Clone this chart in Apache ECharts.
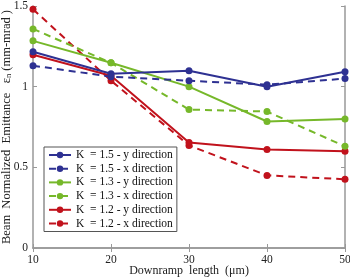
<!DOCTYPE html>
<html><head><meta charset="utf-8">
<script src="https://cdn.jsdelivr.net/npm/echarts@6/dist/echarts.min.js"></script>
<style>html,body{margin:0;padding:0;background:#fff}#c{width:350px;height:280px}</style>
</head><body><div id="c"></div>
<script>
var xValues = [10, 20, 30, 40, 50];
var k15y = [1.216, 1.08, 1.099, 1.0, 1.093];
var k15x = [1.13, 1.062, 1.037, 1.012, 1.05];
var k13y = [1.284, 1.148, 1.0, 0.784, 0.80];
var k13x = [1.358, 1.148, 0.858, 0.846, 0.63];
var k12y = [1.198, 1.068, 0.654, 0.611, 0.60];
var k12x = [1.48, 1.037, 0.636, 0.45, 0.426];
var seriesNames = ['K  = 1.5 - y direction','K  = 1.5 - x direction','K  = 1.3 - y direction','K  = 1.3 - x direction','K  = 1.2 - y direction','K  = 1.2 - x direction'];
var seriesData = [k15y, k15x, k13y, k13x, k12y, k12x];
var colors = ['#2e3192','#2e3192','#76b82a','#76b82a','#c1121c','#c1121c'];
var dashed = [false,true,false,true,false,true];
var font = 'Liberation Serif';

var series = seriesData.map(function(d,i){
  return {
    name: seriesNames[i], type:'line', data: d.map(function(v,j){return [xValues[j], v];}),
    symbol:'circle', symbolSize:7, color: colors[i],
    lineStyle:{width:2, type: dashed[i] ? [7,5] : 'solid', color: colors[i]},
    itemStyle:{color: colors[i]}, z: 10 - i
  };
});
var axisCol = '#999';
var chart = echarts.init(document.getElementById('c'));
chart.setOption({
  animation:false,
  grid:{left:33, right:5, top:6, bottom:32, show:false, containLabel:false, outerBoundsMode:'none'},
  legend:{
    orient:'vertical', left:44, top:147, itemWidth:22, itemHeight:8, itemGap:1.7,
    padding:[2,4,2,4], borderColor:'#555', borderWidth:1, backgroundColor:'#fff',
    textStyle:{fontFamily:font, fontSize:11.5, lineHeight:12, color:'#111'},
    data: seriesNames
  },
  xAxis:[{
    type:'value', min:10, max:50, interval:10,
    axisLine:{show:true, lineStyle:{color:axisCol, width:1.5}},
    axisTick:{show:true, inside:true, length:4, lineStyle:{color:axisCol}},
    axisLabel:{fontFamily:font, fontSize:11.5, color:'#222', margin:6},
    splitLine:{show:false},
    name:'Downramp  length  (\u03bcm)', nameLocation:'middle', nameGap:17, nameMoveOverlap:false,
    nameTextStyle:{fontFamily:font, fontSize:12, color:'#222'}
  },{
    type:'value', min:10, max:50, interval:10, position:'top',
    axisLine:{show:true, lineStyle:{color:axisCol, width:1.5}},
    axisTick:{show:true, inside:true, length:4, lineStyle:{color:axisCol}},
    axisLabel:{show:false}, splitLine:{show:false}
  }],
  yAxis:[{
    type:'value', min:0, max:1.5, interval:0.5,
    axisLine:{show:true, lineStyle:{color:axisCol, width:1.5}},
    axisTick:{show:true, inside:true, length:4, lineStyle:{color:axisCol}},
    axisLabel:{fontFamily:font, fontSize:11.5, color:'#222', margin:5},
    splitLine:{show:false},
    name:'Beam  Normalized  Emittance   \u03b5{sub|n} (mm-mrad )', nameLocation:'middle', nameGap:20, nameMoveOverlap:false,
    nameTextStyle:{fontFamily:font, fontSize:12.5, color:'#222',
      rich:{sub:{fontFamily:font, fontSize:8.5, color:'#222', verticalAlign:'bottom', padding:[4,0,0,0]}}}
  },{
    type:'value', min:0, max:1.5, interval:0.5, position:'right',
    axisLine:{show:true, lineStyle:{color:axisCol, width:1.5}},
    axisTick:{show:true, inside:true, length:4, lineStyle:{color:axisCol}},
    axisLabel:{show:false}, splitLine:{show:false}
  }],
  series: series
});
</script></body></html>
